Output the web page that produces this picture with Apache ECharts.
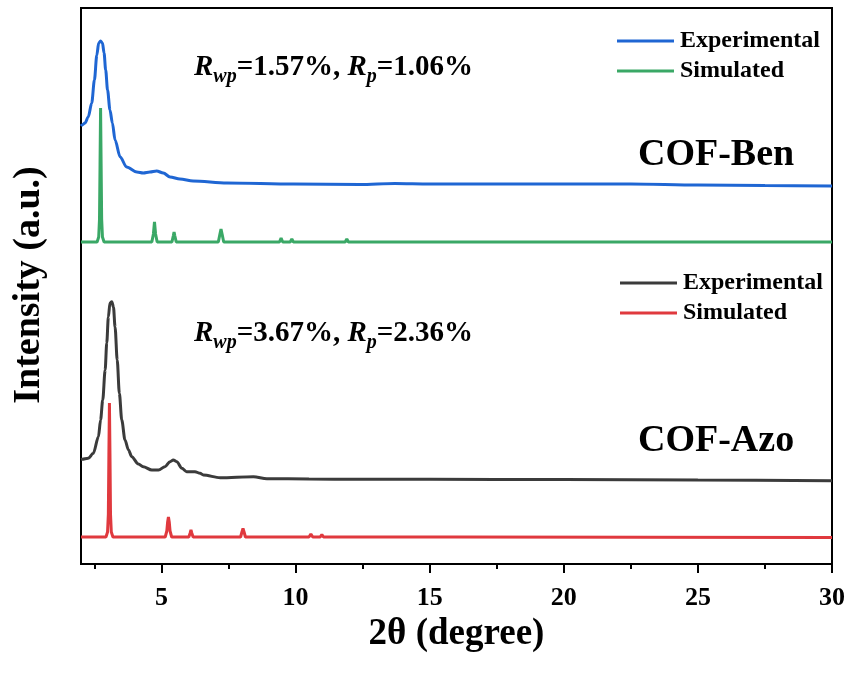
<!DOCTYPE html>
<html>
<head>
<meta charset="utf-8">
<script src="https://cdn.jsdelivr.net/npm/echarts@6/dist/echarts.min.js"></script>
<style>html,body{margin:0;padding:0;background:#fff}#c{width:854px;height:673px}</style>
</head>
<body>
<div id="c"></div>
<script>
// ---- data (2θ in degrees, intensity in arbitrary stacked units) ----
var xTicks = [5, 10, 15, 20, 25, 30];
var xMinorTicks = [2.5, 7.5, 12.5, 17.5, 22.5, 27.5];

var benExpX = [2.0, 2.04, 2.15, 2.27, 2.40, 2.50, 2.59, 2.66, 2.73, 2.80, 2.86, 2.92, 2.99, 3.08, 3.17, 3.27, 3.46, 3.70, 4.08, 4.32, 4.57, 4.82, 5.07, 5.32, 5.69, 6.18, 7.44, 9.93, 12.4, 13.7, 15.0, 17.5, 20.0, 22.5, 25.0, 27.5, 30.0];
var benExpY = [438, 439, 441, 447, 461, 484, 509, 521, 523, 521, 511, 494, 474, 454, 441, 424, 407, 397, 392, 391, 392, 393, 391, 387, 385, 383, 381, 380, 379.5, 380.5, 380, 380, 380, 380, 379, 378.5, 378];

var benSimX = [2.0, 2.60, 2.66, 2.69, 2.71, 2.73, 2.75, 2.77, 2.80, 2.86, 4.64, 4.70, 4.74, 4.78, 4.84, 5.39, 5.44, 5.47, 5.50, 5.55, 7.12, 7.18, 7.22, 7.26, 7.32, 9.40, 9.46, 9.52, 9.80, 9.86, 9.92, 11.85, 11.91, 11.97, 14.15, 14.20, 14.25, 30.0];
var benSimY = [322, 322, 327, 345, 400, 456, 400, 345, 327, 322, 322, 330, 342, 330, 322, 322, 328, 332, 328, 322, 322, 330, 335, 330, 322, 322, 326, 322, 322, 325, 322, 322, 325, 322, 322, 323.5, 322, 322];

var azoExpX = [2.0, 2.04, 2.27, 2.46, 2.65, 2.73, 2.81, 2.90, 2.96, 3.02, 3.08, 3.15, 3.21, 3.27, 3.35, 3.43, 3.52, 3.64, 3.77, 3.89, 4.14, 4.32, 4.64, 4.89, 5.13, 5.32, 5.44, 5.57, 5.76, 5.94, 6.25, 6.44, 6.56, 7.19, 8.43, 8.93, 10.5, 12.4, 15.0, 20.0, 25.0, 30.0];
var azoExpY = [104.5, 104.7, 105.7, 110.7, 127.3, 144, 164, 194, 221, 247, 261, 262.3, 257, 237, 204, 170.7, 144, 124, 114, 107.3, 100, 97.3, 94, 94, 97.3, 102.3, 104, 102.3, 95.7, 92.3, 92.3, 90.7, 89, 86.3, 87.3, 85.3, 85, 84.7, 84.7, 84.5, 84, 83.3];

var azoSimX = [2.0, 2.93, 2.99, 3.02, 3.04, 3.06, 3.08, 3.10, 3.13, 3.19, 5.14, 5.20, 5.23, 5.26, 5.29, 5.32, 5.38, 6.02, 6.07, 6.10, 6.13, 6.18, 7.95, 8.00, 8.04, 8.08, 8.13, 10.50, 10.57, 10.64, 10.92, 10.98, 11.04, 13.25, 13.30, 13.35, 15.85, 15.90, 15.95, 30.0];
var azoSimY = [27, 27, 32, 50, 110, 161, 110, 50, 32, 27, 27, 33, 42, 47, 42, 33, 27, 27, 31, 34, 31, 27, 27, 32, 35.5, 32, 27, 27, 30, 27, 27, 29.5, 27, 27, 29, 27, 27, 28.5, 27, 26.5];

var seriesNames = ['Ben Experimental', 'Ben Simulated', 'Azo Experimental', 'Azo Simulated'];
var seriesColors = ['#1f66d3', '#3aa866', '#3b3b3b', '#e0393e'];

function pairs(xs, ys) { return xs.map(function (x, i) { return [x, ys[i]]; }); }

var FF = '"Times New Roman", "Liberation Serif", serif';
var chart = echarts.init(document.getElementById('c'));

function rText(a, b, top) {
  return {
    type: 'text', left: 194, top: top, z: 100,
    style: {
      text: '{R|R}{s|wp}{n|=' + a + ', }{R|R}{s|p}{n|=' + b + '}',
      fill: '#000',
      rich: {
        R: { fontStyle: 'italic', fontWeight: 'bold', fontSize: 29, fontFamily: FF, lineHeight: 30, fill: '#000' },
        s: { fontStyle: 'italic', fontWeight: 'bold', fontSize: 20, fontFamily: FF, lineHeight: 20, padding: [19, 0, 0, 0], fill: '#000' },
        n: { fontWeight: 'bold', fontSize: 29, fontFamily: FF, lineHeight: 30, fill: '#000' }
      }
    }
  };
}

function legendOpt(names, left, top) {
  return {
    data: names, left: left, top: top, orient: 'vertical', padding: 0,
    icon: 'rect', itemWidth: 57, itemHeight: 3, itemGap: 6, selectedMode: false,
    formatter: function (n) { return n.split(' ')[1]; },
    textStyle: { fontFamily: FF, fontWeight: 'bold', fontSize: 24, lineHeight: 24, color: '#000', padding: [0, 0, 0, 1] }
  };
}

var option = {
  backgroundColor: '#fff',
  animation: false,
  grid: { left: 81, right: 22, top: 8, bottom: 109, show: true, borderColor: '#000', borderWidth: 2, backgroundColor: 'transparent' },
  xAxis: [{
    type: 'value', min: 2, max: 30,
    axisLine: { show: true, lineStyle: { color: '#000', width: 2 } },
    axisTick: { show: true, customValues: xTicks, length: 9, lineStyle: { color: '#000', width: 2 } },
    axisLabel: { show: true, customValues: xTicks, margin: 21, fontFamily: FF, fontWeight: 'bold', fontSize: 26, color: '#000' },
    splitLine: { show: false }
  }, {
    type: 'value', min: 2, max: 30, position: 'bottom', offset: 0,
    axisLine: { show: false },
    axisTick: { show: true, customValues: xMinorTicks, length: 5, lineStyle: { color: '#000', width: 2 } },
    axisLabel: { show: false },
    splitLine: { show: false }
  }],
  yAxis: {
    type: 'value', min: 0, max: 556,
    axisLine: { show: false }, axisTick: { show: false }, axisLabel: { show: false }, splitLine: { show: false }
  },
  legend: [legendOpt([seriesNames[0], seriesNames[1]], 617, 29), legendOpt([seriesNames[2], seriesNames[3]], 620, 271)],
  series: [
    { name: seriesNames[0], type: 'line', data: pairs(benExpX, benExpY), showSymbol: false, symbol: 'none', smooth: 0.3, smoothMonotone: 'x', lineStyle: { width: 3, color: seriesColors[0] }, itemStyle: { color: seriesColors[0] } },
    { name: seriesNames[1], type: 'line', data: pairs(benSimX, benSimY), showSymbol: false, symbol: 'none', lineStyle: { width: 3, color: seriesColors[1] }, itemStyle: { color: seriesColors[1] } },
    { name: seriesNames[2], type: 'line', data: pairs(azoExpX, azoExpY), showSymbol: false, symbol: 'none', smooth: 0.3, smoothMonotone: 'x', lineStyle: { width: 3, color: seriesColors[2] }, itemStyle: { color: seriesColors[2] } },
    { name: seriesNames[3], type: 'line', data: pairs(azoSimX, azoSimY), showSymbol: false, symbol: 'none', lineStyle: { width: 3, color: seriesColors[3] }, itemStyle: { color: seriesColors[3] } }
  ],
  graphic: [
    rText('1.57%', '1.06%', 48),
    rText('3.67%', '2.36%', 314),
    { type: 'text', x: 638, y: 155, z: 100, style: { text: 'COF-Ben', fontFamily: FF, fontWeight: 'bold', fontSize: 38, fill: '#000', align: 'left', verticalAlign: 'middle' } },
    { type: 'text', x: 638, y: 441, z: 100, style: { text: 'COF-Azo', fontFamily: FF, fontWeight: 'bold', fontSize: 38, fill: '#000', align: 'left', verticalAlign: 'middle' } },
    { type: 'text', x: 29, y: 285, rotation: Math.PI / 2, z: 100, style: { text: 'Intensity (a.u.)', fontFamily: FF, fontWeight: 'bold', fontSize: 38, fill: '#000', align: 'center', verticalAlign: 'middle' } },
    { type: 'text', x: 456.5, y: 634, z: 100, style: { text: '2θ (degree)', fontFamily: FF, fontWeight: 'bold', fontSize: 37, fill: '#000', align: 'center', verticalAlign: 'middle' } }
  ]
};
chart.setOption(option);
</script>
</body>
</html>
